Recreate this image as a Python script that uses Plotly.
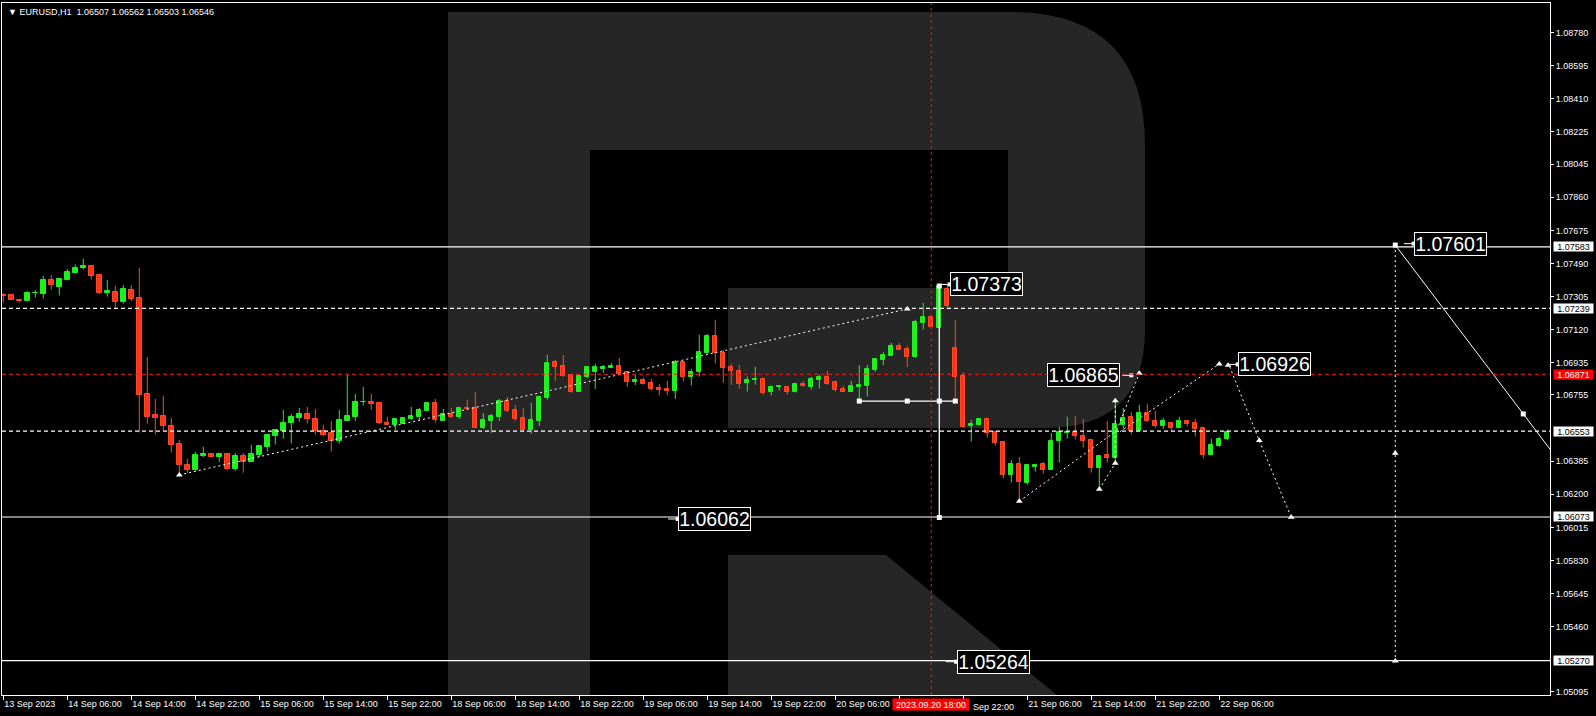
import plotly.graph_objects as go

# ---------------- data (EURUSD H1, bar index 0 = 13 Sep 22:00) ----------------
opens = [1.07316, 1.07313, 1.07285, 1.07283, 1.07324, 1.07322, 1.07396, 1.07361, 1.07395, 1.07439,
         1.07462, 1.07475, 1.07426, 1.07327, 1.07331, 1.07275, 1.07342, 1.07298, 1.06761, 1.06644,
         1.06638, 1.06582, 1.06481, 1.06364, 1.06336, 1.06414, 1.06424, 1.06409, 1.06426, 1.06342,
         1.06414, 1.06383, 1.06420, 1.06465, 1.06528, 1.06556, 1.06599, 1.06629, 1.06649, 1.06621,
         1.06552, 1.06541, 1.06495, 1.06610, 1.06633, 1.06713, 1.06715, 1.06709, 1.06599, 1.06588,
         1.06593, 1.06621, 1.06633, 1.06666, 1.06709, 1.06610, 1.06651, 1.06633, 1.06683, 1.06683,
         1.06571, 1.06610, 1.06633, 1.06722, 1.06672, 1.06627, 1.06560, 1.06610, 1.06739, 1.06940,
         1.06918, 1.06867, 1.06772, 1.06856, 1.06884, 1.06901, 1.06906, 1.06918, 1.06884, 1.06828,
         1.06839, 1.06823, 1.06792, 1.06787, 1.06778, 1.06938, 1.06856, 1.06884, 1.06990, 1.07085,
         1.06990, 1.06912, 1.06890, 1.06824, 1.06836, 1.06845, 1.06769, 1.06797, 1.06800, 1.06774,
         1.06817, 1.06800, 1.06841, 1.06856, 1.06828, 1.06789, 1.06774, 1.06797, 1.06806, 1.06895,
         1.06951, 1.06974, 1.07029, 1.07013, 1.06968, 1.07160, 1.07190, 1.07132, 1.07350, 1.07018,
         1.06862, 1.06579, 1.06588, 1.06621, 1.06549, 1.06493, 1.06305, 1.06370, 1.06264, 1.06355,
         1.06370, 1.06336, 1.06495, 1.06543, 1.06549, 1.06526, 1.06504, 1.06349, 1.06420, 1.06400,
         1.06590, 1.06633, 1.06551, 1.06653, 1.06610, 1.06582, 1.06599, 1.06571, 1.06610, 1.06599,
         1.06571, 1.06420, 1.06470, 1.06507]
highs = [1.07324, 1.07315, 1.07292, 1.07337, 1.07342, 1.07421, 1.07426, 1.07404, 1.07460, 1.07484,
         1.07516, 1.07482, 1.07426, 1.07398, 1.07365, 1.07370, 1.07370, 1.07465, 1.06968, 1.06733,
         1.06750, 1.06627, 1.06504, 1.06398, 1.06437, 1.06465, 1.06424, 1.06433, 1.06426, 1.06431,
         1.06431, 1.06476, 1.06476, 1.06532, 1.06558, 1.06672, 1.06649, 1.06683, 1.06688, 1.06677,
         1.06588, 1.06610, 1.06672, 1.06869, 1.06761, 1.06800, 1.06761, 1.06709, 1.06633, 1.06621,
         1.06627, 1.06688, 1.06683, 1.06711, 1.06733, 1.06677, 1.06683, 1.06688, 1.06728, 1.06772,
         1.06655, 1.06649, 1.06733, 1.06744, 1.06700, 1.06683, 1.06711, 1.06750, 1.06979, 1.06951,
         1.06979, 1.06867, 1.06862, 1.06912, 1.06929, 1.06923, 1.06934, 1.06962, 1.06890, 1.06867,
         1.06851, 1.06845, 1.06817, 1.06834, 1.06951, 1.06938, 1.06901, 1.07091, 1.07096, 1.07175,
         1.07007, 1.06929, 1.06923, 1.06858, 1.06912, 1.06851, 1.06808, 1.06808, 1.06800, 1.06823,
         1.06834, 1.06856, 1.06869, 1.06890, 1.06834, 1.06806, 1.06834, 1.06923, 1.06923, 1.06962,
         1.06996, 1.07046, 1.07046, 1.07029, 1.07175, 1.07270, 1.07190, 1.07373, 1.07370, 1.07175,
         1.06882, 1.06616, 1.06627, 1.06627, 1.06554, 1.06498, 1.06392, 1.06409, 1.06370, 1.06370,
         1.06381, 1.06543, 1.06577, 1.06633, 1.06638, 1.06621, 1.06504, 1.06415, 1.06610, 1.06728,
         1.06683, 1.06660, 1.06700, 1.06705, 1.06666, 1.06627, 1.06599, 1.06633, 1.06616, 1.06621,
         1.06571, 1.06510, 1.06521, 1.06562]
lows = [1.07272, 1.07286, 1.07272, 1.07281, 1.07300, 1.07294, 1.07344, 1.07311, 1.07395, 1.07434,
        1.07456, 1.07400, 1.07320, 1.07305, 1.07238, 1.07266, 1.07281, 1.06545, 1.06595, 1.06534,
        1.06556, 1.06433, 1.06321, 1.06321, 1.06332, 1.06407, 1.06407, 1.06381, 1.06336, 1.06332,
        1.06321, 1.06383, 1.06407, 1.06439, 1.06478, 1.06511, 1.06484, 1.06606, 1.06595, 1.06534,
        1.06523, 1.06439, 1.06484, 1.06610, 1.06610, 1.06696, 1.06672, 1.06593, 1.06590, 1.06560,
        1.06593, 1.06616, 1.06610, 1.06666, 1.06599, 1.06610, 1.06627, 1.06621, 1.06672, 1.06573,
        1.06565, 1.06543, 1.06610, 1.06660, 1.06610, 1.06549, 1.06538, 1.06582, 1.06728, 1.06834,
        1.06856, 1.06767, 1.06772, 1.06851, 1.06789, 1.06878, 1.06906, 1.06867, 1.06800, 1.06811,
        1.06813, 1.06780, 1.06752, 1.06752, 1.06733, 1.06830, 1.06808, 1.06858, 1.06985, 1.06931,
        1.06823, 1.06813, 1.06791, 1.06774, 1.06813, 1.06757, 1.06752, 1.06780, 1.06757, 1.06769,
        1.06802, 1.06785, 1.06791, 1.06813, 1.06774, 1.06772, 1.06774, 1.06729, 1.06746, 1.06884,
        1.06923, 1.06974, 1.07007, 1.06912, 1.06962, 1.07121, 1.07126, 1.07128, 1.07234, 1.06739,
        1.06573, 1.06495, 1.06582, 1.06517, 1.06472, 1.06288, 1.06266, 1.06171, 1.06254, 1.06327,
        1.06316, 1.06336, 1.06377, 1.06511, 1.06506, 1.06461, 1.06321, 1.06232, 1.06377, 1.06374,
        1.06560, 1.06534, 1.06551, 1.06605, 1.06571, 1.06565, 1.06554, 1.06571, 1.06579, 1.06523,
        1.06400, 1.06420, 1.06465, 1.06503]
closes = [1.07311, 1.07288, 1.07281, 1.07326, 1.07327, 1.07398, 1.07367, 1.07404, 1.07443, 1.07465,
          1.07476, 1.07422, 1.07327, 1.07337, 1.07277, 1.07348, 1.07292, 1.06757, 1.06634, 1.06629,
          1.06579, 1.06478, 1.06361, 1.06338, 1.06420, 1.06426, 1.06411, 1.06426, 1.06342, 1.06414,
          1.06383, 1.06426, 1.06470, 1.06532, 1.06558, 1.06599, 1.06633, 1.06649, 1.06621, 1.06554,
          1.06534, 1.06497, 1.06616, 1.06638, 1.06716, 1.06716, 1.06707, 1.06601, 1.06590, 1.06621,
          1.06627, 1.06638, 1.06672, 1.06711, 1.06616, 1.06649, 1.06634, 1.06683, 1.06677, 1.06573,
          1.06616, 1.06638, 1.06722, 1.06666, 1.06621, 1.06560, 1.06616, 1.06744, 1.06934, 1.06912,
          1.06862, 1.06772, 1.06862, 1.06912, 1.06912, 1.06912, 1.06918, 1.06873, 1.06828, 1.06839,
          1.06819, 1.06791, 1.06783, 1.06778, 1.06938, 1.06858, 1.06884, 1.06996, 1.07085, 1.06987,
          1.06908, 1.06891, 1.06819, 1.06839, 1.06847, 1.06767, 1.06800, 1.06806, 1.06774, 1.06817,
          1.06806, 1.06845, 1.06856, 1.06819, 1.06785, 1.06774, 1.06806, 1.06811, 1.06901, 1.06957,
          1.06979, 1.07029, 1.07009, 1.06970, 1.07164, 1.07191, 1.07137, 1.07362, 1.07255, 1.06858,
          1.06577, 1.06593, 1.06621, 1.06545, 1.06489, 1.06305, 1.06370, 1.06266, 1.06364, 1.06364,
          1.06338, 1.06498, 1.06549, 1.06549, 1.06528, 1.06500, 1.06349, 1.06415, 1.06400, 1.06593,
          1.06627, 1.06551, 1.06655, 1.06612, 1.06582, 1.06610, 1.06573, 1.06610, 1.06595, 1.06567,
          1.06422, 1.06476, 1.06510, 1.06546]
bar_index = list(range(len(opens)))

x_tick_bars = [0, 8, 16, 24, 32, 40, 48, 56, 64, 72, 80, 88, 96, 104, 112, 120, 128, 136, 144, 152]
x_tick_text = ["13 Sep 2023", "14 Sep 06:00", "14 Sep 14:00", "14 Sep 22:00", "15 Sep 06:00",
               "15 Sep 14:00", "15 Sep 22:00", "18 Sep 06:00", "18 Sep 14:00", "18 Sep 22:00",
               "19 Sep 06:00", "19 Sep 14:00", "19 Sep 22:00", "20 Sep 06:00", "",
               "", "21 Sep 06:00", "21 Sep 14:00", "21 Sep 22:00", "22 Sep 06:00"]
partial_label_bar = 120
partial_label_text = "Sep 22:00"   # "20 Sep 22:00" partly hidden by the cursor label
y_tick_vals = [1.08780, 1.08595, 1.08410, 1.08225, 1.08045, 1.07860, 1.07675, 1.07490, 1.07305,
               1.07120, 1.06935, 1.06755, 1.06385, 1.06200, 1.06015, 1.05830, 1.05645, 1.05460,
               1.05095]

solid_levels = [1.07583, 1.06073, 1.05270]
dashed_levels = [1.07239, 1.06553]
red_level = 1.06871
cursor_bar = 116
cursor_label = "2023.09.20 18:00"
header_text = "EURUSD,H1\u00a0\u00a01.06507 1.06562 1.06503 1.06546"

# forecast drawings: (bar, price) points
dotted_paths = [
    [(22, 1.06308), (113, 1.07236)],
    [(127, 1.06161), (139, 1.06550)],
    [(137, 1.06228), (139, 1.06373)],
    [(139, 1.06723), (139, 1.06373)],
    [(139.2, 1.06559), (142, 1.06876)],
    [(139.6, 1.06550), (152, 1.06928)],
    [(153.3, 1.06913), (157, 1.06500), (161, 1.06071)],
    [(174, 1.07593), (174, 1.05268)],
]
arrow_points = [(22, 1.06308), (113, 1.07236), (127, 1.06161), (137, 1.06228), (139, 1.06373),
                (139, 1.06723), (142, 1.06876), (152, 1.06928), (153.1, 1.06921), (157, 1.06500),
                (161, 1.06071), (174, 1.06429), (174, 1.05268)]
ray_points = [(174, 1.07593), (190, 1.06649)]
structure_h = [(107, 1.06721), (113, 1.06721), (117, 1.06721), (119, 1.06721)]
structure_v = [(117, 1.07364), (117, 1.06070)]
# big price labels: text, left bar, price, connector (bar0, bar1)
price_labels = [
    ("1.07601", 176.4, 1.07601, (175.1, 176.3)),
    ("1.07373", 118.4, 1.07373, (117.0, 118.3)),
    ("1.06865", 130.5, 1.06865, (139.9, 141.0)),
    ("1.06926", 154.4, 1.06926, (153.3, 154.3)),
    ("1.06062", 84.4, 1.06062, (83.1, 84.3)),
    ("1.05264", 119.2, 1.05264, (117.8, 119.1)),
]

# ---------------- styles ----------------
UP = "#1ff01f"
DOWN_FILL = "#ff2a1a"
DOWN_LINE = "#ff4a22"
WM = "#262626"
FONT = "Liberation Sans, Arial, sans-serif"
BIG = "Liberation Sans, Arial, sans-serif"

X_RANGE = [-0.1625, 193.34]
Y_RANGE = [1.05078, 1.08946]


def px_x(px):
    return (px - 3.3) / 8.0


def px_y(py):
    return 1.08780 - (py - 32.7) / 17891.0


fig = go.Figure()

# wicks
for up in (True, False):
    xs, ys = [], []
    for k in bar_index:
        if (closes[k] >= opens[k]) == up:
            xs += [k, k, None]
            ys += [lows[k], highs[k], None]
    fig.add_trace(go.Scatter(x=xs, y=ys, mode="lines", hoverinfo="skip",
                             line=dict(color=UP if up else DOWN_LINE, width=1)))

# bodies
for up in (True, False):
    xs, base, h = [], [], []
    for k in bar_index:
        if (closes[k] >= opens[k]) == up:
            lo, hi = min(opens[k], closes[k]), max(opens[k], closes[k])
            xs.append(k)
            base.append(lo)
            h.append(max(hi - lo, 0.000005))
    fig.add_trace(go.Bar(x=xs, y=h, base=base, width=0.55, hoverinfo="skip",
                         marker=dict(color=UP if up else DOWN_FILL,
                                     line=dict(color=UP if up else DOWN_LINE, width=1))))

# dotted forecast paths
for path in dotted_paths:
    fig.add_trace(go.Scatter(x=[p[0] for p in path], y=[p[1] for p in path], mode="lines",
                             hoverinfo="skip", line=dict(color="white", width=1, dash="2px,3px")))
fig.add_trace(go.Scatter(x=[p[0] for p in arrow_points], y=[p[1] for p in arrow_points],
                         mode="markers", hoverinfo="skip",
                         marker=dict(symbol="triangle-up", size=6, color="white")))

# solid ray
(k0, p0), (k1, p1) = ray_points
slope = (p1 - p0) / (k1 - k0)
k_end = 200
fig.add_trace(go.Scatter(x=[k0, k1, k_end], y=[p0, p1, p1 + slope * (k_end - k1)], mode="lines",
                         hoverinfo="skip", line=dict(color="white", width=1)))
fig.add_trace(go.Scatter(x=[k0, k1], y=[p0, p1], mode="markers", hoverinfo="skip",
                         marker=dict(symbol="square", size=5, color="white")))

# structure lines
for pts in (structure_h, structure_v):
    fig.add_trace(go.Scatter(x=[p[0] for p in pts], y=[p[1] for p in pts], mode="lines+markers",
                             hoverinfo="skip", line=dict(color="white", width=1.3),
                             marker=dict(symbol="square", size=5, color="white")))

# connectors for labels
for text, kl, price, (c0, c1) in price_labels:
    fig.add_trace(go.Scatter(x=[c0, c1], y=[price, price], mode="lines", hoverinfo="skip",
                             line=dict(color="white", width=1)))
    fig.add_trace(go.Scatter(x=[c1], y=[price], mode="markers", hoverinfo="skip",
                             marker=dict(symbol="square", size=4, color="white")))

shapes = []
# watermark "R"
r_path = (f"M {px_x(448)},{px_y(12)} L {px_x(1010)},{px_y(12)} "
          f"Q {px_x(1145)},{px_y(12)} {px_x(1145)},{px_y(145)} "
          f"L {px_x(1145)},{px_y(330)} Q {px_x(1145)},{px_y(428)} {px_x(1045)},{px_y(428)} "
          f"L {px_x(728)},{px_y(428)} L {px_x(728)},{px_y(288)} L {px_x(1008)},{px_y(288)} "
          f"L {px_x(1008)},{px_y(150)} L {px_x(590)},{px_y(150)} L {px_x(590)},{px_y(710)} "
          f"L {px_x(448)},{px_y(710)} Z")
leg_path = (f"M {px_x(728)},{px_y(555)} L {px_x(886)},{px_y(555)} L {px_x(1075)},{px_y(710)} "
            f"L {px_x(728)},{px_y(710)} Z")
for pth in (r_path, leg_path):
    shapes.append(dict(type="path", path=pth, xref="x", yref="y", fillcolor=WM,
                       line=dict(width=0), layer="below"))

for lv in solid_levels:
    shapes.append(dict(type="line", xref="paper", x0=0, x1=1, yref="y", y0=lv, y1=lv,
                       line=dict(color="white", width=1.2), layer="above"))
for lv in dashed_levels:
    shapes.append(dict(type="line", xref="paper", x0=0, x1=1, yref="y", y0=lv, y1=lv,
                       line=dict(color="white", width=1.2, dash="4px,3px"), layer="above"))
shapes.append(dict(type="line", xref="paper", x0=0, x1=1, yref="y", y0=red_level, y1=red_level,
                   line=dict(color="#ff1a1a", width=1.2, dash="4px,3px"), layer="above"))
shapes.append(dict(type="line", xref="x", x0=cursor_bar, x1=cursor_bar, yref="paper", y0=0, y1=1,
                   line=dict(color="#e01a1a", width=1, dash="3px,3px"), layer="above"))

annotations = []
# header
annotations.append(dict(xref="paper", yref="paper", x=0, y=1, xanchor="left", yanchor="top",
                        xshift=4, yshift=-2, showarrow=False,
                        text="\u25bc " + header_text, font=dict(color="white", size=9, family=FONT)))
# y-axis price boxes
for lv in solid_levels + dashed_levels + [red_level]:
    is_red = lv == red_level
    annotations.append(dict(xref="paper", yref="y", x=1, y=lv, xanchor="left", yanchor="middle",
                            xshift=3, showarrow=False, text=f"{lv:.5f}",
                            bgcolor="#ff0000" if is_red else "white", borderpad=0,
                            width=39, height=9,
                            font=dict(color="white" if is_red else "black", size=9, family=FONT)))
# partially hidden time label
annotations.append(dict(xref="x", yref="paper", x=partial_label_bar, y=0, xanchor="left",
                        yanchor="top", xshift=8, yshift=-5, showarrow=False,
                        text=partial_label_text, font=dict(color="white", size=9, family=FONT)))
# cursor time label
annotations.append(dict(xref="x", yref="paper", x=cursor_bar, y=0, xanchor="center", yanchor="top",
                        yshift=-3, showarrow=False, text=cursor_label, bgcolor="#ff0000",
                        width=76, height=11, borderpad=0,
                        font=dict(color="white", size=9, family=FONT)))
# big forecast labels
for text, kl, price, _ in price_labels:
    annotations.append(dict(xref="x", yref="y", x=kl, y=price, xanchor="left", yanchor="middle",
                            showarrow=False, text=text, bgcolor="black", bordercolor="white",
                            borderwidth=1, borderpad=0, width=71, height=22,
                            font=dict(color="white", size=19.5, family=BIG)))

fig.update_layout(
    width=1596, height=716,
    margin=dict(l=2, r=46, t=3, b=21, pad=0),
    paper_bgcolor="black", plot_bgcolor="black",
    showlegend=False, barmode="overlay", bargap=0,
    shapes=shapes, annotations=annotations,
    xaxis=dict(range=X_RANGE, tickvals=x_tick_bars, ticktext=x_tick_text,
               ticks="outside", ticklen=4, tickcolor="white", ticklabelposition="outside right",
               tickfont=dict(color="white", size=9, family=FONT),
               showline=True, linecolor="white", linewidth=1, mirror=True,
               showgrid=False, zeroline=False, fixedrange=True),
    yaxis=dict(range=Y_RANGE, side="right", tickvals=y_tick_vals,
               ticktext=[f"{v:.5f}" for v in y_tick_vals],
               ticks="outside", ticklen=3, tickcolor="white",
               tickfont=dict(color="white", size=9, family=FONT),
               showline=True, linecolor="white", linewidth=1, mirror=True,
               showgrid=False, zeroline=False, fixedrange=True),
)

fig.write_html("out.html", config={"displayModeBar": False},
               post_script="document.body.style.margin='0';document.body.style.background='#000';")
